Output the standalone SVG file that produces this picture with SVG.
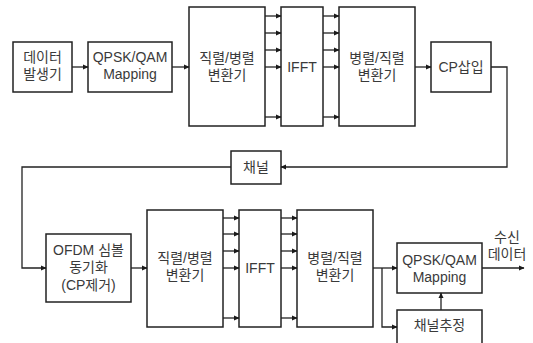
<svg xmlns="http://www.w3.org/2000/svg" width="533" height="343" viewBox="0 0 533 343">
<defs>
<marker id="ah" markerWidth="6" markerHeight="6" refX="5" refY="3" orient="auto" markerUnits="userSpaceOnUse">
<path d="M0,0.5 L5.5,3 L0,5.5 Z" fill="#1a1a1a"/>
</marker>
<style>
.box{fill:#fff;stroke:#222;stroke-width:1.5}
.ln{fill:none;stroke:#222;stroke-width:1.3}
.ar{fill:none;stroke:#222;stroke-width:1.3;marker-end:url(#ah)}
text{font-family:"Liberation Sans","Noto Sans CJK KR",sans-serif;font-size:14px;fill:#3a3a3a;text-anchor:middle}
</style>
</defs>
<rect width="533" height="343" fill="#fff"/>
<g id="n-data"><rect class="box" x="13" y="42" width="59" height="50"/><text x="42.5" y="62">데이터</text><text x="42.5" y="79">발생기</text></g>
<g id="n-qpsk1"><rect class="box" x="88" y="42" width="84" height="50"/><text x="130" y="62">QPSK/QAM</text><text x="130" y="79">Mapping</text></g>
<g id="n-sp1"><rect class="box" x="189" y="7" width="76" height="119"/><text x="227" y="63">직렬/병렬</text><text x="227" y="80">변환기</text></g>
<g id="n-ifft1"><rect class="box" x="281" y="7" width="42" height="119"/><text x="302" y="72">IFFT</text></g>
<g id="n-ps1"><rect class="box" x="339" y="7" width="76" height="119"/><text x="377" y="63">병렬/직렬</text><text x="377" y="80">변환기</text></g>
<g id="n-cp"><rect class="box" x="431" y="42" width="60" height="50"/><text x="461" y="72">CP삽입</text></g>
<g id="n-ch"><rect class="box" x="231" y="151" width="50" height="33"/><text x="256" y="172">채널</text></g>
<g id="n-ofdm"><rect class="box" x="46" y="234" width="85" height="68"/><text x="88.5" y="255">OFDM 심볼</text><text x="88.5" y="272">동기화</text><text x="88.5" y="290">(CP제거)</text></g>
<g id="n-sp2"><rect class="box" x="147" y="210" width="76" height="117"/><text x="185" y="263">직렬/병렬</text><text x="185" y="280">변환기</text></g>
<g id="n-ifft2"><rect class="box" x="239" y="210" width="42" height="117"/><text x="260" y="273">IFFT</text></g>
<g id="n-ps2"><rect class="box" x="297" y="210" width="76" height="117"/><text x="335" y="263">병렬/직렬</text><text x="335" y="280">변환기</text></g>
<g id="n-qpsk2"><rect class="box" x="397" y="243" width="85" height="50"/><text x="439.5" y="265">QPSK/QAM</text><text x="439.5" y="282">Mapping</text></g>
<g id="n-est"><rect class="box" x="397" y="310" width="85" height="40"/><text x="439.5" y="330">채널추정</text></g>
<g id="n-out"><text x="507" y="242">수신</text><text x="507" y="259">데이터</text></g>
<g id="connectors">
<line class="ar" x1="72" y1="67" x2="88" y2="67"/>
<line class="ar" x1="172" y1="67" x2="189" y2="67"/>
<line class="ar" x1="265" y1="16" x2="281" y2="16"/>
<line class="ar" x1="265" y1="33" x2="281" y2="33"/>
<line class="ar" x1="265" y1="50" x2="281" y2="50"/>
<line class="ar" x1="265" y1="67" x2="281" y2="67"/>
<line class="ar" x1="265" y1="117" x2="281" y2="117"/>
<line class="ar" x1="323" y1="16" x2="339" y2="16"/>
<line class="ar" x1="323" y1="33" x2="339" y2="33"/>
<line class="ar" x1="323" y1="50" x2="339" y2="50"/>
<line class="ar" x1="323" y1="67" x2="339" y2="67"/>
<line class="ar" x1="323" y1="117" x2="339" y2="117"/>
<line class="ar" x1="415" y1="67" x2="431" y2="67"/>
<polyline class="ar" points="491,67 507,67 507,167 281,167"/>
<polyline class="ar" points="231,167 22,167 22,268 46,268"/>
<line class="ar" x1="131" y1="268" x2="147" y2="268"/>
<line class="ar" x1="223" y1="218" x2="239" y2="218"/>
<line class="ar" x1="223" y1="234" x2="239" y2="234"/>
<line class="ar" x1="223" y1="251" x2="239" y2="251"/>
<line class="ar" x1="223" y1="268" x2="239" y2="268"/>
<line class="ar" x1="223" y1="318" x2="239" y2="318"/>
<line class="ar" x1="281" y1="218" x2="297" y2="218"/>
<line class="ar" x1="281" y1="234" x2="297" y2="234"/>
<line class="ar" x1="281" y1="251" x2="297" y2="251"/>
<line class="ar" x1="281" y1="268" x2="297" y2="268"/>
<line class="ar" x1="281" y1="318" x2="297" y2="318"/>
<line class="ar" x1="373" y1="268" x2="397" y2="268"/>
<polyline class="ar" points="382,268 382,327 397,327"/>
<line class="ar" x1="441" y1="310" x2="441" y2="293"/>
<line class="ar" x1="482" y1="268" x2="524" y2="268"/>
</g>
</svg>
